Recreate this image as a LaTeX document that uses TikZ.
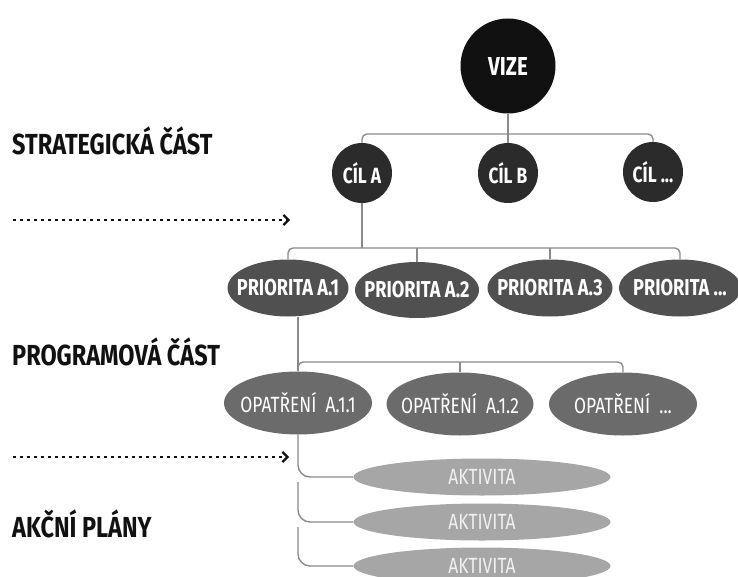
\documentclass[tikz,border=0pt]{standalone}
\usepackage{fontspec}
\setmainfont{Fira Sans}
\newfontfamily\labfont{Fira Sans}[FakeStretch=0.81]
\newfontfamily\nodfont{Fira Sans}[FakeStretch=0.79]
\usetikzlibrary{arrows.meta,shapes.geometric,calc}
\definecolor{cVize}{HTML}{111111}
\definecolor{cCil}{HTML}{2B2B2B}
\definecolor{cPri}{HTML}{505050}
\definecolor{cOpa}{HTML}{6B6B6B}
\definecolor{cAkt}{HTML}{A6A6A6}
\definecolor{cLine}{HTML}{8A8A8A}
\tikzset{
  bubble/.style={shape=circle, inner sep=0pt, text=white, font=\nodfont\bfseries\fontsize{22}{22}\selectfont},
  oval/.style={shape=ellipse, inner xsep=-40pt, inner ysep=-6pt, text=white, font=\nodfont\bfseries\fontsize{23}{23}\selectfont},
  conn/.style={draw=cLine, line width=1.4pt, rounded corners=5pt},
  leftlab/.style={anchor=base west, inner sep=0pt, text=cVize, font=\labfont\bfseries\fontsize{29}{29}\selectfont},
  dotarrow/.style={line width=2.6pt, dash pattern=on 2.6pt off 4.4pt, draw=cVize,
     -{Straight Barb[length=5pt,width=10pt,line width=2.2pt]}}
}
\begin{document}
\begin{tikzpicture}[x=1pt,y=-1pt]
\useasboundingbox (0,0) rectangle (738,577);
\clip (0,0) rectangle (738,577);
% nodes
\node[bubble, fill=cVize, minimum size=95pt, font=\nodfont\bfseries\fontsize{26}{26}\selectfont] (vize) at (508,66) {VIZE};
\node[bubble, fill=cCil, minimum size=60pt] (cilA) at (362,173) {CÍL A};
\node[bubble, fill=cCil, minimum size=60pt] (cilB) at (508,173) {CÍL B};
\node[bubble, fill=cCil, minimum size=60pt] (cilC) at (653,172) {CÍL ...};

\node[oval, fill=cPri, minimum width=121pt, minimum height=57pt] (pA1) at (288,288) {PRIORITA A.1};
\node[oval, fill=cPri, minimum width=124pt, minimum height=56pt] (pA2) at (417,290) {PRIORITA A.2};
\node[oval, fill=cPri, minimum width=125pt, minimum height=57pt] (pA3) at (550,288) {PRIORITA A.3};
\node[oval, fill=cPri, minimum width=122pt, minimum height=57pt] (pAx) at (680,288) {PRIORITA ...};

\node[oval, fill=cOpa, minimum width=148pt, minimum height=63pt, font=\nodfont\fontsize{22}{22}\selectfont] (oA1) at (298,403) {OPATŘENÍ\ \ A.1.1};
\node[oval, fill=cOpa, minimum width=147pt, minimum height=63pt, font=\nodfont\fontsize{22}{22}\selectfont] (oA2) at (460,404) {OPATŘENÍ\ \ A.1.2};
\node[oval, fill=cOpa, minimum width=148pt, minimum height=63pt, font=\nodfont\fontsize{22}{22}\selectfont] (oAx) at (623,404) {OPATŘENÍ\ \ ...};

\node[oval, fill=cAkt, text=white!94!black, minimum width=257pt, minimum height=37pt, font=\nodfont\fontsize{22}{22}\selectfont] (akt1) at (482,477) {AKTIVITA};
\node[oval, fill=cAkt, text=white!94!black, minimum width=257pt, minimum height=37pt, font=\nodfont\fontsize{22}{22}\selectfont] (akt2) at (482,522) {AKTIVITA};
\node[oval, fill=cAkt, text=white!94!black, minimum width=257pt, minimum height=37pt, font=\nodfont\fontsize{22}{22}\selectfont] (akt3) at (482,566) {AKTIVITA};

% left labels
\node[leftlab] (lab1) at (12,155) {STRATEGICKÁ ČÁST};
\node[leftlab] (lab2) at (12,365) {PROGRAMOVÁ ČÁST};
\node[leftlab] (lab3) at (12,537) {AKČNÍ PLÁNY};

% coordinates
\coordinate (bar1) at (508,134);
\coordinate (bar2) at (362,248);
\coordinate (bar3) at (463,362);
\coordinate (s2) at (298,482);
\coordinate (s3) at (298,527);
\coordinate (d1a) at (13,220);
\coordinate (d1b) at (290,220);
\coordinate (d2a) at (13,457);
\coordinate (d2b) at (289,457);

% connectors
\draw[conn] (cilA.north) |- (bar1) -| (cilC.north);
\draw[conn] (vize.south) -- (cilB.north);
\draw[conn] (cilA.south) -- (bar2);
\draw[conn] (pA1.north) |- (bar2) -| (pAx.north);
\draw[conn] (pA2.north) -- (pA2.north |- bar2);
\draw[conn] (pA3.north) -- (pA3.north |- bar2);
\draw[conn] (pA1.south -| oA1.north) -- (oA1.north);
\draw[conn] (oA1.north) |- (bar3) -| (oAx.north);
\draw[conn] (oA2.north) -- (oA2.north |- bar3);
\draw[conn, rounded corners=12pt] (oA1.south) |- (akt1.west);
\draw[conn, rounded corners=12pt] (s2) |- (akt2.west);
\draw[conn, rounded corners=12pt] (s3) |- (akt3.west);

\draw[dotarrow] (d1a) -- (d1b);
\draw[dotarrow] (d2a) -- (d2b);
\end{tikzpicture}
\end{document}
